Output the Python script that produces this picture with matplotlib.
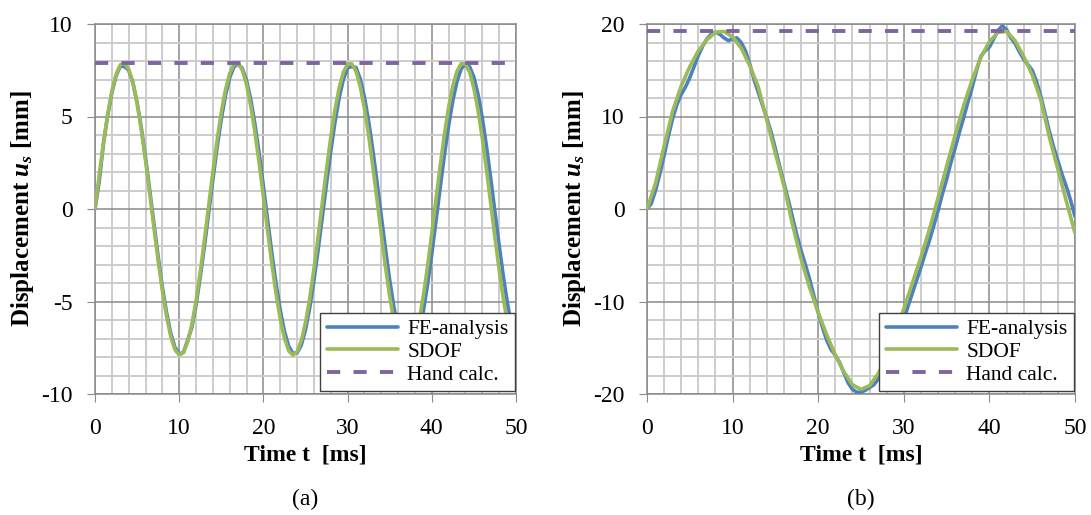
import matplotlib
matplotlib.use("Agg")
import matplotlib.pyplot as plt
from matplotlib.ticker import MultipleLocator

plt.rcParams['font.family'] = ['Liberation Serif', 'DejaVu Serif']
plt.rcParams['axes.unicode_minus'] = False
plt.rcParams['mathtext.fontset'] = 'custom'
plt.rcParams['mathtext.rm'] = 'Liberation Serif:bold'
plt.rcParams['mathtext.it'] = 'Liberation Serif:bold:italic'
plt.rcParams['mathtext.bf'] = 'Liberation Serif:bold'

# ---------------- data: panel (a) ----------------
time_a = [i * 0.5 for i in range(101)]
fe_a = [0.0, 1.5, 3.51, 5.03, 6.28, 7.19, 7.72, 7.7, 7.5, 6.83,
        5.76, 4.39, 2.78, 1.01, -0.80, -2.57, -4.22, -5.61, -6.73, -7.48,
        -7.83, -7.76, -7.1, -6.40, -5.18, -3.67, -2.01, -0.21, 1.60, 3.32,
        4.86, 6.15, 7.11, 7.68, 7.85, 7.59, 6.94, 5.91, 4.57, 2.99,
        1.23, -0.59, -2.37, -4.03, -5.46, -6.62, -7.41, -7.80, -7.78, -7.36,
        -6.53, -5.34, -3.87, -2.21, -0.43, 1.38, 3.12, 4.69, 6.01, 7.01,
        7.63, 7.7, 7.65, 7.03, 6.05, 4.74, 3.18, 1.44, -0.37, -2.16,
        -3.84, -5.30, -6.50, -7.34, -7.78, -7.81, -7.43, -6.66, -5.52, -4.07,
        -2.43, -0.64, 1.16, 2.92, 4.51, 5.86, 6.91, 7.58, 7.85, 7.69,
        7.13, 6.18, 4.91, 3.37, 1.65, -0.15, -1.95, -3.65, -5.14, -6.37,
        -7.26]
sdof_a = [0.0, 1.83, 3.56, 5.10, 6.35, 7.27, 7.79, 7.88, 7.55, 6.81,
          5.70, 4.28, 2.63, 0.83, -1.01, -2.79, -4.42, -5.81, -6.90, -7.61,
          -7.89, -7.76, -7.19, -6.25, -4.97, -3.41, -1.65, 0.18, 2.00, 3.72,
          5.23, 6.46, 7.33, 7.82, 7.87, 7.50, 6.72, 5.57, 4.13, 2.46,
          0.65, -1.18, -2.95, -4.57, -5.94, -6.98, -7.66, -7.90, -7.72, -7.12,
          -6.14, -4.83, -3.25, -1.48, 0.36, 2.18, 3.88, 5.36, 6.56, 7.40,
          7.84, 7.85, 7.44, 6.62, 5.44, 3.97, 2.28, 0.47, -1.37, -3.13,
          -4.72, -6.07, -7.06, -7.69, -7.90, -7.68, -7.04, -6.03, -4.69, -3.09,
          -1.30, 0.54, 2.35, 4.04, 5.50, 6.66, 7.46, 7.86, 7.83, 7.38,
          6.52, 5.31, 3.81, 2.11, 0.29, -1.55, -3.29, -4.87, -6.18, -7.13,
          -7.60]
hand_a = 7.9

# ---------------- data: panel (b) ----------------
time_fe_b = [i * 0.5 for i in range(101)]
fe_b = [0.0, 0.6, 2.0, 3.8, 5.8, 7.9, 9.8, 11.3, 12.4, 13.2,
        14.2, 15.4, 16.6, 17.6, 18.4, 18.9, 19.1, 18.9, 18.5, 18.2,
        18.4, 18.5, 18.0, 17.1, 15.7, 14.0, 12.6, 11.2, 9.8, 8.3,
        6.5, 4.6, 2.8, 1.0, -0.9, -2.8, -4.5, -6.0, -7.6, -9.4,
        -11.2, -12.8, -14.2, -15.2, -15.8, -16.6, -17.7, -18.8, -19.5, -19.8,
        -19.8, -19.6, -19.3, -19.0, -18.4, -17.6, -16.7, -15.75, -14.5, -13.2,
        -11.9, -10.5, -9.1, -7.7, -6.3, -4.8, -3.4, -1.8, -0.2, 1.6,
        3.2, 5.0, 6.6, 8.3, 9.9, 11.6, 13.2, 15.0, 16.5, 17.1,
        17.5, 18.4, 19.3, 19.8, 19.4, 18.5, 17.9, 17.0, 16.2, 15.6,
        15.0, 13.8, 12.2, 10.3, 8.4, 6.7, 5.2, 3.7, 2.4, 0.9,
        -0.8]
time_sdof_b = list(range(51))
sdof_b = [0.0, 2.8, 6.8, 10.6, 13.3, 15.4, 17.1, 18.3, 19.1, 19.2,
          18.6, 17.4, 15.5, 13.2, 9.6, 6.0, 2.5, -1.7, -5.4, -8.5,
          -11.2, -13.6, -15.8, -17.6, -19.0, -19.5, -19.1, -17.8, -16.0, -13.5,
          -10.8, -8.0, -5.2, -2.2, 1.2, 4.6, 8.0, 11.2, 14.0, 16.4,
          18.1, 19.1, 19.2, 18.2, 16.5, 14.5, 11.8, 7.8, 4.3, 0.8,
          -2.6]
hand_b = 19.2

x_ticks = [0, 10, 20, 30, 40, 50]
y_ticks_a = [-10, -5, 0, 5, 10]
y_ticks_b = [-20, -10, 0, 10, 20]
legend_labels = ["FE-analysis", "SDOF", "Hand calc."]

c_fe = "#4F81BD"
c_sdof = "#9BBB59"
c_hand = "#8064A2"

fig = plt.figure(figsize=(10.91, 5.15), dpi=100)
ax_a = fig.add_axes([95 / 1091, 1 - 394 / 515, 421 / 1091, 370 / 515])
ax_b = fig.add_axes([647 / 1091, 1 - 394 / 515, 428 / 1091, 370 / 515])


def style(ax, yt, ymin, ymax, yminor):
    ax.set_xlim(0, 50)
    ax.set_ylim(ymin, ymax)
    ax.set_xticks(x_ticks)
    ax.set_xticklabels([str(v) for v in x_ticks])
    ax.set_yticks(yt)
    ax.set_yticklabels([str(v) for v in yt])
    ax.xaxis.set_minor_locator(MultipleLocator(2))
    ax.yaxis.set_minor_locator(MultipleLocator(yminor))
    ax.grid(which='minor', color='#cccccc', lw=1.4, zorder=0)
    ax.grid(which='major', color='#8a8a8a', lw=1.1, zorder=0)
    ax.set_axisbelow(True)
    for s in ax.spines.values():
        s.set_color('#8a8a8a')
        s.set_linewidth(1.1)
    ax.tick_params(which='major', direction='out', length=6, color='#8a8a8a',
                   labelsize=17, pad=10)
    ax.tick_params(axis='x', which='major', pad=11)
    ax.tick_params(which='minor', length=0)
    ax.set_xlabel("Time t  [ms]", fontsize=17, fontweight='bold', labelpad=4)
    ax.set_ylabel(r"Displacement $u_s$ [mm]", fontsize=18, fontweight='bold',
                  labelpad=4)


def draw(ax, tfe, fe, tsd, sd, hand):
    ax.plot(tfe, fe, color=c_fe, lw=2.6, label=legend_labels[0], zorder=3,
            solid_capstyle='round')
    ax.plot(tsd, sd, color=c_sdof, lw=2.6, label=legend_labels[1], zorder=4,
            solid_capstyle='round')
    ax.axhline(hand, color=c_hand, lw=2.8, dashes=(3.4, 3.4),
               label=legend_labels[2], zorder=5)
    leg = ax.legend(loc='lower right', bbox_to_anchor=(0.998, 0.008),
                    borderaxespad=0, fontsize=15.5, handlelength=3.3,
                    handletextpad=0.45, labelspacing=0.12, fancybox=False,
                    framealpha=1, edgecolor='#404040', borderpad=0.3)
    leg.get_frame().set_linewidth(1.0)
    leg.set_zorder(10)


draw(ax_a, time_a, fe_a, time_a, sdof_a, hand_a)
style(ax_a, y_ticks_a, -10, 10, 1)
draw(ax_b, time_fe_b, fe_b, time_sdof_b, sdof_b, hand_b)
style(ax_b, y_ticks_b, -20, 20, 2)

fig.text(305 / 1091, 1 - 499 / 515, "(a)", fontsize=17, ha='center', va='center')
fig.text(861 / 1091, 1 - 499 / 515, "(b)", fontsize=17, ha='center', va='center')

fig.savefig("out.png", dpi=100)
